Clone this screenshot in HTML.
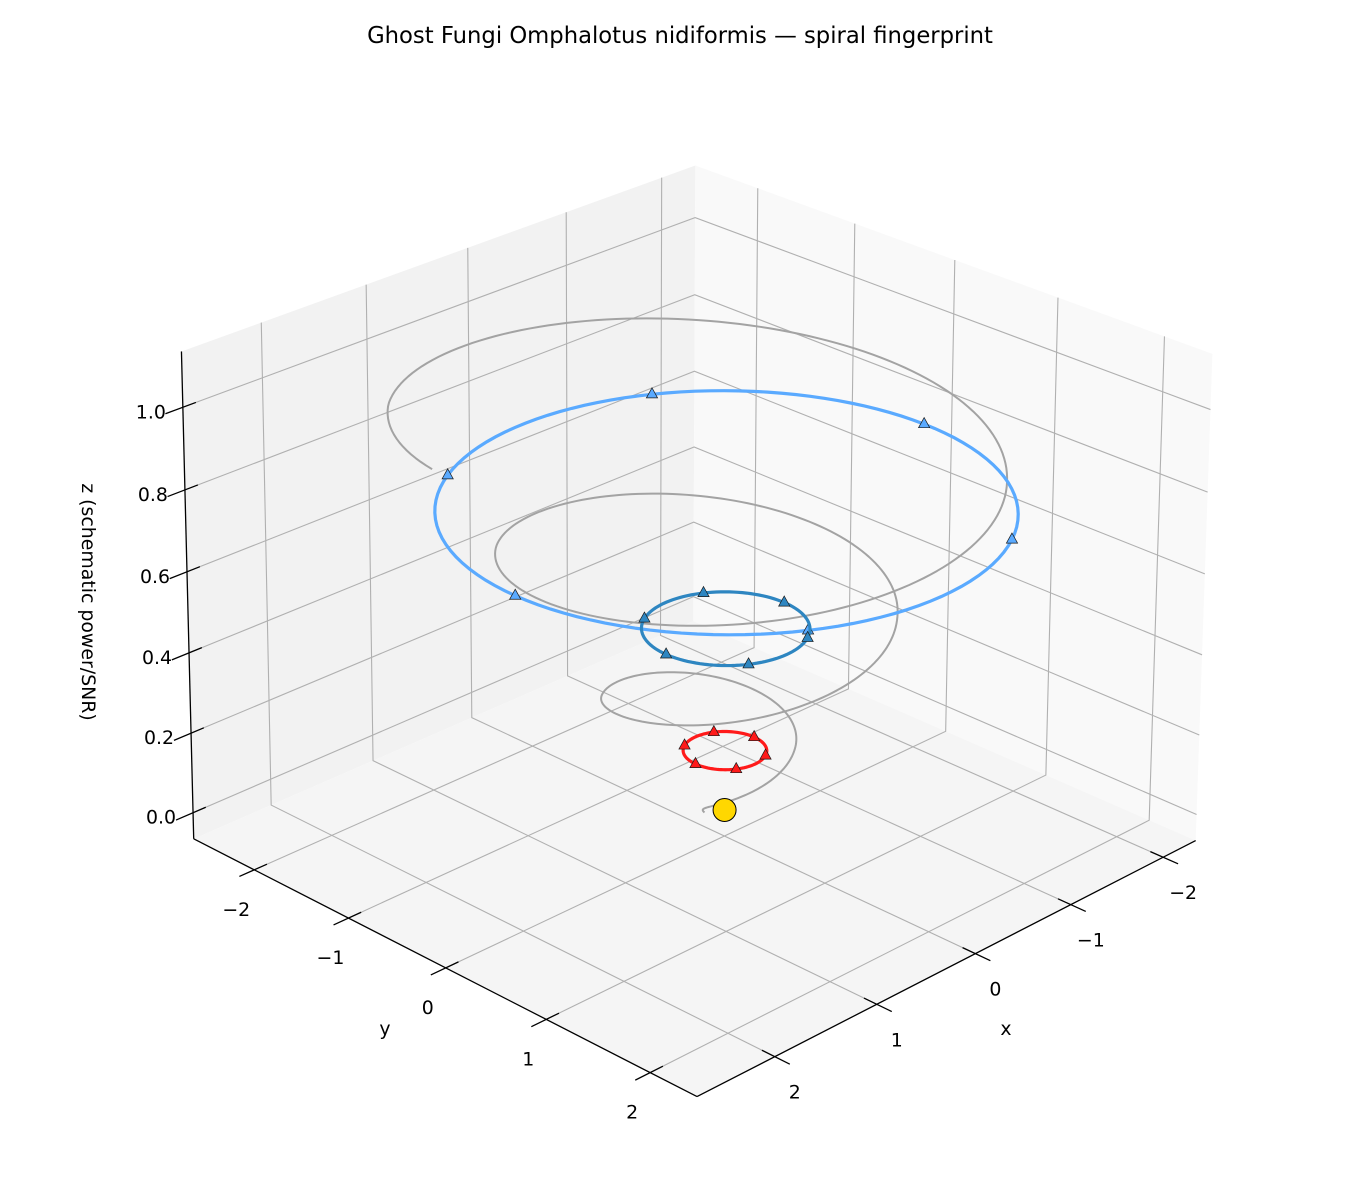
<!DOCTYPE html>
<html><head><meta charset="utf-8"><title>Ghost Fungi spiral fingerprint</title>
<style>
html,body{margin:0;padding:0;background:#fff;}
svg{display:block;font-family:"DejaVu Sans","Liberation Sans",sans-serif;}
</style></head>
<body>
<svg id="chart" width="1360" height="1200" viewBox="0 0 1360 1200" xmlns="http://www.w3.org/2000/svg">
<text x="680" y="43" text-anchor="middle" font-size="22.7" fill="#000">Ghost Fungi Omphalotus nidiformis — spiral fingerprint</text>
<g id="panes"></g>
<g id="grid"></g>
<g id="axes"></g>
<g id="ticklabels" font-size="18.9" fill="#000"></g>
<text x="1006" y="1035" text-anchor="middle" font-size="18.9">x</text>
<text x="385" y="1035" text-anchor="middle" font-size="18.9">y</text>
<text transform="translate(82,602) rotate(90)" text-anchor="middle" font-size="18.9">z (schematic power/SNR)</text>
<g id="series"></g>
</svg>
<script>
// ---- data ----
const xLim = [-2.36, 2.74];
const yLim = [-2.66, 2.44];
const zLim = [-0.066, 1.134];
const xTicks = [-2, -1, 0, 1, 2];
const yTicks = [-2, -1, 0, 1, 2];
const zTicks = [0, 0.2, 0.4, 0.6, 0.8, 1.0];
const xTickLabels = ["−2", "−1", "0", "1", "2"];
const yTickLabels = ["−2", "−1", "0", "1", "2"];
const zTickLabels = ["0.0", "0.2", "0.4", "0.6", "0.8", "1.0"];
const spiralThetaDeg = [-30, 135, 315, 495, 675, 855, 1035, 1068];
const spiralR = [0.15, 0.5, 0.88, 1.22, 1.63, 1.98, 2.38, 2.41];
const spiralZ = [0.0, 0.153, 0.29, 0.48, 0.655, 0.82, 1.0, 1.03];
const ringNames = ["ring-low", "ring-mid", "ring-high"];
const ringZ = [0.15, 0.455, 0.753];
const ringR = [0.3, 0.6, 2.06];
const markerAnglesDeg = [0, 60, 120, 180, 240, 300];
const originPoint = [0, 0, 0];
// ---- styles ----
const ringColors = ["#ff1a1a", "#2e86c1", "#5aaaff"];
const ringWidths = [3.2, 3.2, 3.2];

// ---- projection: 3x4 camera calibrated from the axes box ----
const [x0, x1] = xLim, [y0, y1] = yLim, [z0, z1] = zLim;
const calib = [
  [x1, y0, z0, 194.5, 844], [x1, y1, z0, 695, 1092], [x0, y1, z0, 1196, 844], [x0, y0, z0, 695, 608],
  [x1, y0, z1, 179, 350], [x0, y1, z1, 1214, 349], [x0, y0, z1, 695, 173],
  [x1, -2, z0, 251, 871], [x1, -1, z0, 346, 919], [x1, 0, z0, 445, 968], [x1, 1, z0, 548, 1019], [x1, 2, z0, 654, 1071],
  [2, y1, z0, 778, 1053], [1, y1, z0, 876, 1004], [0, y1, z0, 973, 956], [-1, y1, z0, 1069, 908], [-2, y1, z0, 1162, 862],
  [x1, y0, 0, 196, 816], [x1, y0, 1.0, 184, 405]
];
function solveCamera() {
  const N = 11, M = [], b = [];
  for (let i = 0; i < N; i++) { M.push(new Array(N).fill(0)); b.push(0); }
  function addRow(r, rhs) {
    for (let i = 0; i < N; i++) { b[i] += r[i] * rhs; for (let j = 0; j < N; j++) M[i][j] += r[i] * r[j]; }
  }
  calib.forEach(c => {
    const [X, Y, Z] = c; const uu = (c[3] - 680) / 500, vv = (c[4] - 600) / 500;
    addRow([X, Y, Z, 1, 0, 0, 0, 0, -uu * X, -uu * Y, -uu * Z], uu);
    addRow([0, 0, 0, 0, X, Y, Z, 1, -vv * X, -vv * Y, -vv * Z], vv);
  });
  for (let c = 0; c < N; c++) {
    let p = c; for (let r = c + 1; r < N; r++) if (Math.abs(M[r][c]) > Math.abs(M[p][c])) p = r;
    [M[c], M[p]] = [M[p], M[c]]; [b[c], b[p]] = [b[p], b[c]];
    for (let r = 0; r < N; r++) {
      if (r === c) continue;
      const f = M[r][c] / M[c][c];
      for (let k = c; k < N; k++) M[r][k] -= f * M[c][k];
      b[r] -= f * b[c];
    }
  }
  return b.map((val, i) => val / M[i][i]);
}
const cam = solveCamera();
function P(x, y, z) {
  const wd = cam[8] * x + cam[9] * y + cam[10] * z + 1;
  const uu = (cam[0] * x + cam[1] * y + cam[2] * z + cam[3]) / wd;
  const vv = (cam[4] * x + cam[5] * y + cam[6] * z + cam[7]) / wd;
  return [680 + 500 * uu, 600 + 500 * vv];
}

const NS = "http://www.w3.org/2000/svg";
function mk(tag, parent, attrs) {
  const e = document.createElementNS(NS, tag);
  for (const k in attrs) e.setAttribute(k, attrs[k]);
  parent.appendChild(e);
  return e;
}
function pts(arr) { return arr.map(p => p[0].toFixed(2) + "," + p[1].toFixed(2)).join(" "); }

const panes = document.getElementById("panes");
let e;
e = mk("polygon", panes, { points: pts([P(x0, y0, z0), P(x1, y0, z0), P(x1, y0, z1), P(x0, y0, z1)]), fill: "#f2f2f2" });


e = mk("polygon", panes, { points: pts([P(x0, y0, z0), P(x0, y1, z0), P(x0, y1, z1), P(x0, y0, z1)]), fill: "#f9f9f9" });


e = mk("polygon", panes, { points: pts([P(x0, y0, z0), P(x1, y0, z0), P(x1, y1, z0), P(x0, y1, z0)]), fill: "#f5f5f5" });



const grid = document.getElementById("grid");
const gs = { stroke: "#b0b0b0", "stroke-width": 1.1, fill: "none" };
xTicks.forEach(t => {
  const l = mk("polyline", grid, Object.assign({ points: pts([P(t, y1, z0), P(t, y0, z0), P(t, y0, z1)]) }, gs));
  
  
});
yTicks.forEach(t => {
  const l = mk("polyline", grid, Object.assign({ points: pts([P(x1, t, z0), P(x0, t, z0), P(x0, t, z1)]) }, gs));
  
  
});
zTicks.forEach(t => {
  const l = mk("polyline", grid, Object.assign({ points: pts([P(x1, y0, t), P(x0, y0, t), P(x0, y1, t)]) }, gs));
  
  
});

const axes = document.getElementById("axes");
const as = { stroke: "#000", "stroke-width": 1.3, fill: "none" };
e = mk("line", axes, Object.assign({ x1: P(x1, y0, z0)[0], y1: P(x1, y0, z0)[1], x2: P(x1, y1, z0)[0], y2: P(x1, y1, z0)[1] }, as));


e = mk("line", axes, Object.assign({ x1: P(x1, y1, z0)[0], y1: P(x1, y1, z0)[1], x2: P(x0, y1, z0)[0], y2: P(x0, y1, z0)[1] }, as));


e = mk("line", axes, Object.assign({ x1: P(x1, y0, z0)[0], y1: P(x1, y0, z0)[1], x2: P(x1, y0, z1)[0], y2: P(x1, y0, z1)[1] }, as));



const tl = document.getElementById("ticklabels");
yTicks.forEach((t, i) => {
  const a = P(x1 - 0.12, t, z0), b = P(x1 + 0.14, t, z0);
  const m = mk("line", axes, Object.assign({ x1: a[0], y1: a[1], x2: b[0], y2: b[1] }, as));
  
  
  const p = P(x1, t, z0);
  const tx = mk("text", tl, { x: p[0] - 18, y: p[1] + 46, "text-anchor": "middle" });
  tx.textContent = yTickLabels[i];
  
  
});
xTicks.forEach((t, i) => {
  const a2 = P(t, y1 - 0.12, z0), b2 = P(t, y1 + 0.14, z0);
  const m = mk("line", axes, Object.assign({ x1: a2[0], y1: a2[1], x2: b2[0], y2: b2[1] }, as));
  
  
  const p = P(t, y1, z0);
  const tx = mk("text", tl, { x: p[0] + 20, y: p[1] + 42, "text-anchor": "middle" });
  tx.textContent = xTickLabels[i];
  
  
});
zTicks.forEach((t, i) => {
  const a = P(x1 - 0.12, y0, t), b = P(x1 + 0.16, y0, t);
  const m = mk("line", axes, Object.assign({ x1: a[0], y1: a[1], x2: b[0], y2: b[1] }, as));
  
  
  const p = P(x1, y0, t);
  const tx = mk("text", tl, { x: p[0] - 17, y: p[1] + 11, "text-anchor": "end" });
  tx.textContent = zTickLabels[i];
  
  
});

const series = document.getElementById("series");
function interp(xs, ys, x) {
  for (let i = 0; i < xs.length - 1; i++) {
    if (x <= xs[i + 1]) { const f = (x - xs[i]) / (xs[i + 1] - xs[i]); return ys[i] + f * (ys[i + 1] - ys[i]); }
  }
  return ys[ys.length - 1];
}
const sp = [];
const th0 = spiralThetaDeg[0], th1 = spiralThetaDeg[spiralThetaDeg.length - 1];
for (let th = th0; th <= th1 + 0.001; th += 2) {
  const r = interp(spiralThetaDeg, spiralR, th), z = interp(spiralThetaDeg, spiralZ, th);
  const a = th * Math.PI / 180;
  sp.push(P(r * Math.cos(a), r * Math.sin(a), z));
}
e = mk("polyline", series, { points: pts(sp), fill: "none", stroke: "#a3a3a3", "stroke-width": 2, "stroke-linejoin": "round" });



for (let i = ringZ.length - 1; i >= 0; i--) {
  const rp = [];
  for (let d = 0; d <= 360; d += 3) {
    const a = d * Math.PI / 180;
    rp.push(P(ringR[i] * Math.cos(a), ringR[i] * Math.sin(a), ringZ[i]));
  }
  const g = mk("g", series, {});
  
  
  const rl = mk("polyline", g, { points: pts(rp), fill: "none", stroke: ringColors[i], "stroke-width": ringWidths[i] });
  
  
  markerAnglesDeg.forEach(d => {
    const a = d * Math.PI / 180;
    const c = P(ringR[i] * Math.cos(a), ringR[i] * Math.sin(a), ringZ[i]);
    const tri = mk("polygon", g, {
      points: pts([[c[0], c[1] - 6.5], [c[0] + 5.6, c[1] + 3.6], [c[0] - 5.6, c[1] + 3.6]]),
      fill: ringColors[i], stroke: "#1a1a1a", "stroke-width": 0.7
    });
    
    
  });
}
const o = P(originPoint[0], originPoint[1], originPoint[2]);
e = mk("circle", series, { cx: o[0], cy: o[1], r: 11.5, fill: "#ffd700", stroke: "#000", "stroke-width": 1 });


</script>
</body></html>
